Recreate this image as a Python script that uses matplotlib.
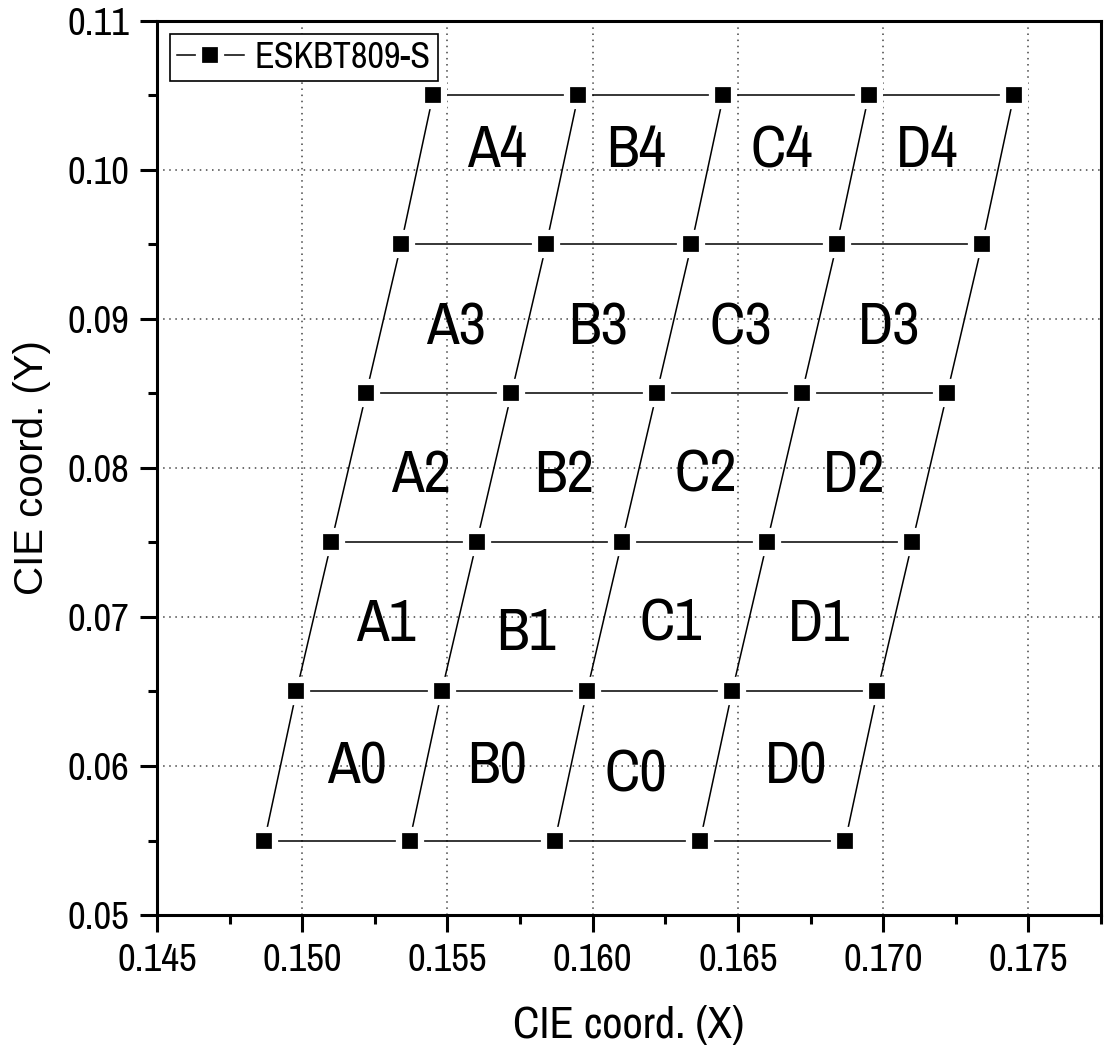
import matplotlib
matplotlib.use("Agg")
import matplotlib.pyplot as plt
from matplotlib.lines import Line2D
from matplotlib.ticker import MultipleLocator, FormatStrFormatter

# bin corner points, one list of x per row of y
row_y = [0.055, 0.065, 0.075, 0.085, 0.095, 0.105]
row_x = [
    [0.1487, 0.1537, 0.1587, 0.1637, 0.1687],
    [0.1498, 0.1548, 0.1598, 0.1648, 0.1698],
    [0.1510, 0.1560, 0.1610, 0.1660, 0.1710],
    [0.1522, 0.1572, 0.1622, 0.1672, 0.1722],
    [0.1534, 0.1584, 0.1634, 0.1684, 0.1734],
    [0.1545, 0.1595, 0.1645, 0.1695, 0.1745],
]

# bin names and where they sit
bin_names = ["A0", "B0", "C0", "D0",
             "A1", "B1", "C1", "D1",
             "A2", "B2", "C2", "D2",
             "A3", "B3", "C3", "D3",
             "A4", "B4", "C4", "D4"]
bin_x = [0.1519, 0.1567, 0.1615, 0.1670,
         0.1529, 0.1577, 0.1627, 0.1678,
         0.1541, 0.1590, 0.1639, 0.1690,
         0.1553, 0.1602, 0.1651, 0.1702,
         0.1567, 0.1615, 0.1665, 0.1715]
bin_y = [0.0599, 0.0599, 0.0594, 0.0599,
         0.0695, 0.0689, 0.0695, 0.0695,
         0.0795, 0.0795, 0.0795, 0.0795,
         0.0894, 0.0894, 0.0894, 0.0894,
         0.1013, 0.1013, 0.1013, 0.1013]

series_name = "ESKBT809-S"

narrow = ["Archivo Narrow", "Liberation Sans", "DejaVu Sans"]
plt.rcParams["font.family"] = narrow

fig = plt.figure(figsize=(11.04, 10.55), dpi=100)
ax = fig.add_axes([0.1422, 0.1327, 0.8551, 0.8474])

# rows
for i in range(len(row_y)):
    ax.plot(row_x[i], [row_y[i]] * len(row_x[i]), color="black", lw=1.1, zorder=2)
# slanted columns
for j in range(len(row_x[0])):
    ax.plot([r[j] for r in row_x], row_y, color="black", lw=1.1, zorder=2)
# markers with a white halo to leave a gap in the lines
for i in range(len(row_y)):
    ax.plot(row_x[i], [row_y[i]] * len(row_x[i]), linestyle="none", marker="s",
            ms=16, mfc="black", mec="white", mew=4.5, zorder=3)

for name, x, y in zip(bin_names, bin_x, bin_y):
    ax.text(x, y, name, fontsize=43, ha="center", va="center", zorder=4)

ax.set_xlim(0.145, 0.1775)
ax.set_ylim(0.05, 0.11)
ax.xaxis.set_major_locator(MultipleLocator(0.005))
ax.xaxis.set_minor_locator(MultipleLocator(0.0025))
ax.yaxis.set_major_locator(MultipleLocator(0.01))
ax.yaxis.set_minor_locator(MultipleLocator(0.005))
ax.xaxis.set_major_formatter(FormatStrFormatter("%.3f"))
ax.yaxis.set_major_formatter(FormatStrFormatter("%.2f"))
ax.grid(True, which="major", linestyle=(0, (1, 3)), color="#444444", lw=1.1)
ax.tick_params(which="major", direction="out", length=12, width=2.2, labelsize=28, pad=8)
ax.tick_params(which="minor", direction="out", length=6.5, width=2.2)
for s in ax.spines.values():
    s.set_linewidth(2.2)

ax.set_xlabel("CIE coord. (X)", fontsize=32, labelpad=20)
ax.set_ylabel("CIE coord. (Y)", fontsize=29, labelpad=12,
              family=["Liberation Sans", "DejaVu Sans"])

handle = Line2D([], [], color="black", lw=1.1, marker="s", ms=16,
                mfc="black", mec="white", mew=4.5)
leg = ax.legend([handle], [series_name], loc="upper left", fontsize=26,
                fancybox=False, framealpha=1, edgecolor="black",
                borderpad=0.2, handlelength=1.85, handletextpad=0.3,
                borderaxespad=0.35)
leg.get_frame().set_linewidth(1.2)

fig.savefig("out.png", dpi=100)
